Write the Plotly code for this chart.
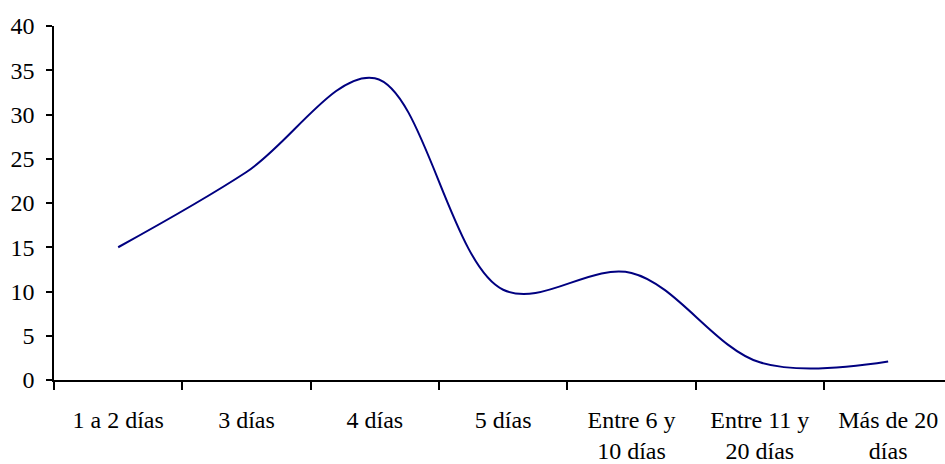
import plotly.graph_objects as go

categories = ["1 a 2 días", "3 días", "4 días", "5 días",
              "Entre 6 y<br>10 días", "Entre 11 y<br>20 días", "Más de 20<br>días"]
values = [15.0, 23.5, 34.1, 10.2, 12.1, 2.0, 2.1]
y_ticks = [0, 5, 10, 15, 20, 25, 30, 35, 40]

font_family = "Liberation Serif, Times New Roman, serif"

fig = go.Figure()
fig.add_trace(go.Scatter(
    x=list(range(len(categories))),
    y=values,
    mode="lines",
    line=dict(color="#000080", width=2, shape="spline", smoothing=1.0),
    hoverinfo="skip",
    showlegend=False,
))

fig.update_layout(
    width=945, height=464,
    margin=dict(l=54, r=0, t=26, b=84, autoexpand=False),
    paper_bgcolor="white", plot_bgcolor="white",
    font=dict(family=font_family, size=24, color="black"),
)

fig.update_xaxes(
    range=[-0.5, 6.443],
    automargin=False,
    tickmode="array",
    tickvals=list(range(len(categories))),
    ticktext=categories,
    showgrid=False, zeroline=False,
    showline=True, linecolor="black", linewidth=1.5,
    ticks="", ticklabelstandoff=17,
)
fig.update_xaxes(
    minor=dict(tickmode="array", tickvals=[i - 0.5 for i in range(len(categories) + 1)],
               ticks="outside", ticklen=8, tickcolor="black", tickwidth=1.5, showgrid=False),
)

fig.update_yaxes(
    range=[0, 40],
    automargin=False,
    tickmode="array", tickvals=y_ticks,
    showgrid=False, zeroline=False,
    showline=True, linecolor="black", linewidth=1.5,
    ticks="outside", ticklen=6, tickcolor="black", tickwidth=1.5,
    ticklabelstandoff=7,
)

fig.write_html("out.html")
